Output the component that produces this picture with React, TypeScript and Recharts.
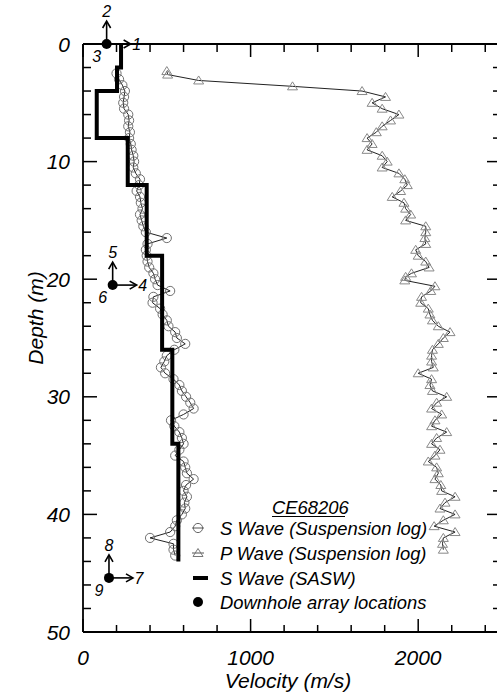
import React from 'react';
import { ScatterChart, Scatter, XAxis, YAxis, Legend } from 'recharts';

const FONT = '"Liberation Sans", Arial, Helvetica, sans-serif';

// S wave (suspension log): depth (m), velocity (m/s)
const sWaveDepths = [
  2.5, 3, 3.5, 4, 4.5, 5, 5.5, 6, 6.5, 7, 7.5, 8, 8.5, 9, 9.5, 10, 10.5, 11, 11.5, 12,
  12.5, 13, 13.5, 14, 14.5, 15, 15.5, 16, 16.5, 17, 17.5, 18, 18.5, 19, 19.5, 20, 20.5, 21,
  21.5, 22, 22.5, 23, 23.5, 24, 24.5, 25, 25.5, 26, 26.5, 27, 27.5, 28, 28.5, 29, 29.5, 30,
  30.5, 31, 31.5, 32, 32.5, 33, 33.5, 34, 34.5, 35, 35.5, 36, 36.5, 37, 37.5, 38, 38.5, 39,
  39.5, 40, 40.5, 41, 41.5, 42, 42.5, 43, 43.5,
];
const sWaveVelocities = [
  200, 215, 235, 250, 245, 240, 245, 270, 275, 270, 280, 275, 285, 290, 300, 305, 300, 315, 340, 335,
  320, 340, 345, 355, 340, 350, 360, 375, 500, 385, 375, 380, 385, 395, 420, 430, 445, 520,
  420, 415, 460, 475, 500, 510, 550, 560, 610, 545, 500, 485, 465, 490, 540, 575, 590, 615,
  640, 660, 600, 525, 545, 575, 590, 600, 575, 550, 600, 610, 620, 660, 615, 600, 620, 605,
  610, 590, 560, 550, 520, 400, 540, 540, 550,
];

// P wave (suspension log)
const pWaveDepths = [
  2.3, 2.6, 3.1, 3.6, 4, 4.5, 5, 5.5, 6, 6.5, 7, 7.5, 8, 8.5, 9, 9.5, 10, 10.5, 11, 11.5,
  12, 12.5, 13, 13.5, 14, 14.5, 15, 15.5, 16, 16.5, 17, 17.5, 18, 18.5, 19, 19.5, 19.8, 20.1,
  20.6, 21, 21.5, 22, 22.5, 23, 23.5, 24, 24.5, 25, 25.5, 26, 26.5, 27, 27.5, 28, 28.5, 29,
  29.5, 30, 30.5, 31, 31.5, 32, 32.5, 33, 33.5, 34, 34.5, 35, 35.5, 36, 36.5, 37, 37.5, 38,
  38.5, 39, 39.5, 40, 40.5, 41, 41.5, 42, 42.5, 43,
];
const pWaveVelocities = [
  500, 505, 690, 1250, 1665, 1805, 1725, 1785, 1885, 1835, 1785, 1750, 1695, 1725, 1695, 1785, 1815, 1785, 1885, 1920,
  1935, 1895, 1845, 1915, 1925, 1955, 1925, 2045, 2045, 2040, 2045, 1985, 2000, 2045, 2065, 1960, 1925, 1920,
  2100, 2075, 2020, 2015, 2060, 2070, 2085, 2120, 2190, 2150, 2120, 2085, 2080, 2080, 2090, 2000, 2080, 2070,
  2085, 2170, 2110, 2080, 2140, 2100, 2080, 2170, 2110, 2080, 2130, 2100, 2060, 2110, 2120, 2100, 2135, 2140,
  2220, 2160, 2130, 2220, 2150, 2095, 2220, 2150, 2145, 2150,
];

// S wave (SASW) layered profile
const saswLayerTops = [0, 2, 4, 8, 12, 18, 26, 34];
const saswLayerBottoms = [2, 4, 8, 12, 18, 26, 34, 44];
const saswVelocities = [227, 203, 82, 267, 380, 472, 533, 569];

// Downhole array locations
const arrayDepths = [0, 20.5, 45.4];
const arrayVelocities = [141, 177, 155];
const arrayRightLabels = ['1', '4', '7'];
const arrayUpLabels = ['2', '5', '8'];
const arrayLowLabels = ['3', '6', '9'];

// Axes
const velocityTicks = [0, 200, 400, 600, 800, 1000, 1200, 1400, 1600, 1800, 2000, 2200, 2400];
const velocityLabels = [0, 1000, 2000];
const depthTicks = [0, 2, 4, 6, 8, 10, 12, 14, 16, 18, 20, 22, 24, 26, 28, 30, 32, 34, 36, 38, 40, 42, 44, 46, 48, 50];
const depthLabels = [0, 10, 20, 30, 40, 50];
const xTitle = 'Velocity (m/s)';
const yTitle = 'Depth (m)';
const siteName = 'CE68206';
const legendLabels = ['S Wave (Suspension log)', 'P Wave (Suspension log)', 'S Wave (SASW)', 'Downhole array locations'];

const sWaveData = sWaveDepths.map((d, i) => ({ v: sWaveVelocities[i], d }));
const pWaveData = pWaveDepths.map((d, i) => ({ v: pWaveVelocities[i], d }));
const saswData = saswVelocities.flatMap((v, i) => [
  { v, d: saswLayerTops[i] },
  { v, d: saswLayerBottoms[i] },
]);
const arrayData = arrayDepths.map((d, i) => ({
  v: arrayVelocities[i],
  d,
  r: arrayRightLabels[i],
  u: arrayUpLabels[i],
  l: arrayLowLabels[i],
}));

const txt = { fontFamily: FONT, fontStyle: 'italic' as const, fill: '#000' };

const BottomTick = (p: any) => {
  const { x, y, payload } = p;
  const major = velocityLabels.includes(payload.value);
  return (
    <g>
      <line x1={x} x2={x} y1={y} y2={y - (major ? 13 : 7)} stroke="#000" strokeWidth={1.5} />
      {major && (
        <text x={x} y={y + 33} textAnchor="middle" fontSize={21} {...txt}>
          {payload.value}
        </text>
      )}
    </g>
  );
};

const TopTick = (p: any) => {
  const { x, y, payload } = p;
  const major = velocityLabels.includes(payload.value);
  return <line x1={x} x2={x} y1={y} y2={y + (major ? 13 : 8)} stroke="#000" strokeWidth={1.5} />;
};

const LeftTick = (p: any) => {
  const { x, y, payload } = p;
  const major = depthLabels.includes(payload.value);
  return (
    <g>
      <line x1={x} x2={x + (major ? 14 : 8)} y1={y} y2={y} stroke="#000" strokeWidth={1.5} />
      {major && (
        <text x={x - 13} y={y + 7.5} textAnchor="end" fontSize={21} {...txt}>
          {payload.value}
        </text>
      )}
    </g>
  );
};

const RightTick = (p: any) => {
  const { x, y, payload } = p;
  const major = depthLabels.includes(payload.value);
  return <line x1={x} x2={x - (major ? 15 : 9)} y1={y} y2={y} stroke="#000" strokeWidth={1.5} />;
};

const SCircle = (p: any) => (
  <circle cx={p.cx} cy={p.cy} r={4.6} fill="none" stroke="#707070" strokeWidth={1} />
);

const PTriangle = (p: any) => (
  <polygon
    points={`${p.cx - 5},${p.cy + 3.5} ${p.cx + 5},${p.cy + 3.5} ${p.cx},${p.cy - 4.5}`}
    fill="none"
    stroke="#888"
    strokeWidth={1}
  />
);

const Empty = () => <g />;

const ArrayMarker = (p: any) => {
  const { cx, cy, payload } = p;
  return (
    <g>
      <line x1={cx} y1={cy} x2={cx} y2={cy - 22} stroke="#000" strokeWidth={1.6} />
      <polyline points={`${cx - 4},${cy - 16} ${cx},${cy - 23} ${cx + 4},${cy - 16}`} fill="none" stroke="#000" strokeWidth={1.6} />
      <line x1={cx} y1={cy} x2={cx + 23} y2={cy} stroke="#000" strokeWidth={1.6} />
      <polyline points={`${cx + 17},${cy - 4} ${cx + 24},${cy} ${cx + 17},${cy + 4}`} fill="none" stroke="#000" strokeWidth={1.6} />
      <circle cx={cx} cy={cy} r={5} fill="#000" />
      <text x={cx + 30} y={cy + 6} textAnchor="middle" fontSize={16} {...txt}>{payload.r}</text>
      <text x={cx} y={cy - 27} textAnchor="middle" fontSize={16} {...txt}>{payload.u}</text>
      <text x={cx - 10} y={cy + 18} textAnchor="middle" fontSize={16} {...txt}>{payload.l}</text>
    </g>
  );
};

const LegendContent = () => {
  const rows = [38, 63, 88, 112];
  return (
    <svg width={300} height={125} style={{ display: 'block', overflow: 'visible' }}>
      <text x={87} y={24} fontSize={18.4} {...txt}>{siteName}</text>
      <line x1={87} x2={160} y1={26.5} y2={26.5} stroke="#000" strokeWidth={1} />
      <line x1={7} x2={19} y1={rows[0]} y2={rows[0]} stroke="#555" strokeWidth={1} />
      <circle cx={13} cy={rows[0]} r={4.6} fill="none" stroke="#666" strokeWidth={1} />
      <line x1={7} x2={19} y1={rows[1]} y2={rows[1]} stroke="#555" strokeWidth={1} />
      <polygon points={`8,${rows[1] + 3.5} 18,${rows[1] + 3.5} 13,${rows[1] - 4.5}`} fill="none" stroke="#777" strokeWidth={1} />
      <line x1={8} x2={23} y1={rows[2]} y2={rows[2]} stroke="#000" strokeWidth={4} />
      <circle cx={13} cy={rows[3]} r={5} fill="#000" />
      {legendLabels.map((t, i) => (
        <text key={t} x={35} y={rows[i] + 6.5} fontSize={18.4} {...txt}>{t}</text>
      ))}
    </svg>
  );
};

export default function App() {
  return (
    <div style={{ position: 'absolute', left: 0, top: 0, width: 497, height: 693, overflow: 'hidden', background: '#fff' }}>
      <ScatterChart width={510} height={693} margin={{ top: 43, right: 7, bottom: 0, left: 0 }}>
        <XAxis
          xAxisId="bottom"
          type="number"
          dataKey="v"
          orientation="bottom"
          domain={[0, 2500]}
          ticks={velocityTicks}
          interval={0}
          height={61}
          tickSize={0}
          tickMargin={0}
          tickLine={false}
          axisLine={{ stroke: '#000', strokeWidth: 1.8 }}
          tick={<BottomTick />}
        />
        <XAxis
          xAxisId="top"
          type="number"
          dataKey="v"
          orientation="top"
          domain={[0, 2500]}
          ticks={velocityTicks}
          interval={0}
          height={1}
          tickSize={0}
          tickMargin={0}
          tickLine={false}
          axisLine={{ stroke: '#000', strokeWidth: 1.8 }}
          tick={<TopTick />}
        />
        <YAxis
          yAxisId="left"
          type="number"
          dataKey="d"
          orientation="left"
          domain={[0, 50]}
          reversed
          ticks={depthTicks}
          interval={0}
          width={83}
          tickSize={0}
          tickMargin={0}
          tickLine={false}
          axisLine={{ stroke: '#000', strokeWidth: 1.8 }}
          tick={<LeftTick />}
        />
        <YAxis
          yAxisId="right"
          type="number"
          dataKey="d"
          orientation="right"
          domain={[0, 50]}
          reversed
          ticks={depthTicks}
          interval={0}
          width={1}
          tickSize={0}
          tickMargin={0}
          tickLine={false}
          axisLine={{ stroke: '#000', strokeWidth: 1.8 }}
          tick={<RightTick />}
        />
        <Scatter
          name="S Wave (Suspension log)"
          data={sWaveData}
          xAxisId="bottom"
          yAxisId="left"
          line={{ stroke: '#222', strokeWidth: 1 }}
          lineType="joint"
          shape={<SCircle />}
          isAnimationActive={false}
        />
        <Scatter
          name="P Wave (Suspension log)"
          data={pWaveData}
          xAxisId="bottom"
          yAxisId="left"
          line={{ stroke: '#222', strokeWidth: 1 }}
          lineType="joint"
          shape={<PTriangle />}
          isAnimationActive={false}
        />
        <Scatter
          name="S Wave (SASW)"
          data={saswData}
          xAxisId="top"
          yAxisId="right"
          line={{ stroke: '#000', strokeWidth: 4, strokeLinejoin: 'miter', strokeLinecap: 'butt' }}
          lineType="joint"
          shape={<Empty />}
          isAnimationActive={false}
        />
        <Scatter
          name="Downhole array locations"
          data={arrayData}
          xAxisId="bottom"
          yAxisId="left"
          shape={<ArrayMarker />}
          isAnimationActive={false}
        />
        <Legend
          layout="vertical"
          align="center"
          verticalAlign="middle"
          content={<LegendContent />}
          wrapperStyle={{ position: 'absolute', left: 185, top: 490, width: 300, height: 125, margin: 0, padding: 0 }}
        />
        <text x={288} y={688} textAnchor="middle" fontSize={21} {...txt}>{xTitle}</text>
        <text x={36} y={318} textAnchor="middle" fontSize={21} transform="rotate(-90 36 318)" dy={7} {...txt}>{yTitle}</text>
      </ScatterChart>
    </div>
  );
}
